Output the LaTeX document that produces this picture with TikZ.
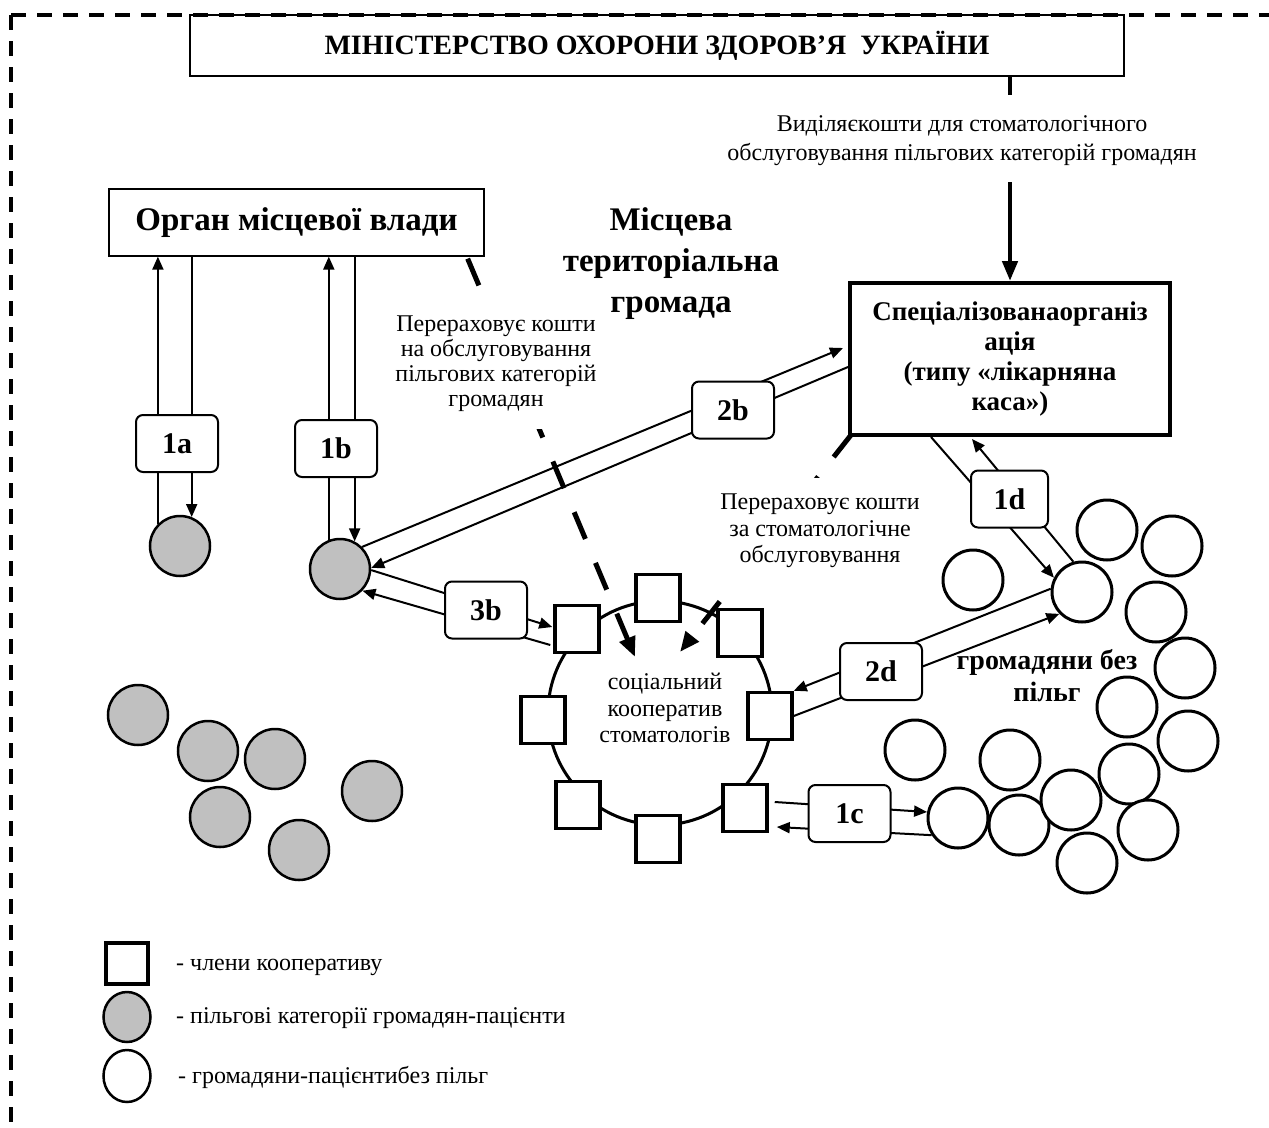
\documentclass[tikz,border=0pt]{standalone}
\usepackage{fontspec}
\setmainfont{Liberation Serif}
\usetikzlibrary{arrows.meta,calc,shapes.geometric}
\definecolor{pgray}{RGB}{192,192,192}
\begin{document}
\begin{tikzpicture}[x=1bp,y=-1bp,
  every node/.style={inner sep=0pt},
  plainbox/.style={draw, line width=1.3bp, fill=white},
  specbox/.style={draw, line width=4bp, fill=white, minimum width=320bp, minimum height=152bp, align=center,
    font=\bfseries\fontsize{27bp}{30bp}\selectfont},
  lbl/.style={draw, line width=2bp, rounded corners=7bp, fill=white, minimum width=82bp, minimum height=57bp,
    font=\bfseries\fontsize{30bp}{32bp}\selectfont},
  member/.style={draw, line width=3.5bp, fill=white, minimum width=44bp, minimum height=47bp},
  gpat/.style={circle, draw, line width=2.5bp, fill=pgray, minimum size=60bp},
  wpat/.style={circle, draw, line width=3bp, fill=white, minimum size=60bp},
  link/.style={line width=2bp},
  arr/.style={-{Triangle[length=13bp,width=11bp]}},
  money/.style={line width=5bp, -{Triangle[length=20bp,width=16bp]}},
  txt/.style={align=center, font=\fontsize{24bp}{25bp}\selectfont},
  frame/.style={line width=3.5bp, dash pattern=on 15bp off 11bp},
]
\useasboundingbox (0,0) rectangle (1269,1128);

% ---------- main boxes ----------
\node[plainbox, minimum width=934bp, minimum height=61bp,
      font=\bfseries\fontsize{28bp}{30bp}\selectfont] (min) at (657,45.5) {МІНІСТЕРСТВО ОХОРОНИ ЗДОРОВ’Я\ \ УКРАЇНИ};
\node[plainbox, minimum width=375bp, minimum height=67bp,
      font=\bfseries\fontsize{33bp}{35bp}\selectfont] (organ) at (296.5,222.5) {Орган місцевої влади};
\node[specbox, outer sep=2bp] (spec) at (1010,359) {Спеціалізованаорганіз\\ація\\(типу «лікарняна\\каса»)};

% ---------- frame ----------
\coordinate (corner) at (11,15);
\draw[frame] (corner) -- (1269,15);
\draw[frame] (corner) -- (11,1128);

% ---------- ministry -> spec ----------
\coordinate (stubend) at (1010,95);
\coordinate (arrstart) at (1010,182);
\draw[line width=4.5bp] (min.south -| spec.north) -- (stubend);
\draw[line width=4.5bp, -{Triangle[length=20bp,width=15bp]}] (arrstart) -- (spec.north);
\node[txt, font=\fontsize{24bp}{29bp}\selectfont] (alloc) at (962,141) {Виділяєкошти для стоматологічного\\обслуговування пільгових категорій громадян};

% ---------- cooperative ----------
\node[circle, draw, line width=3bp, minimum size=224bp] (coop) at (660,713) {};
\node[txt, font=\fontsize{24bp}{26.5bp}\selectfont] (cooptxt) at (665,708) {соціальний\\кооператив\\стоматологів};
\node[member] (s1) at (577,629) {};
\node[member] (s2) at (658,598) {};
\node[member] (s3) at (740,633) {};
\node[member] (s4) at (770,716) {};
\node[member] (s5) at (745,808) {};
\node[member] (s6) at (658,839) {};
\node[member] (s7) at (578,805) {};
\node[member] (s8) at (543,720) {};

% ---------- privileged patients ----------
\node[gpat] (g1) at (180,546) {};
\node[gpat] (g2) at (340,569) {};
\node[gpat] (g3) at (138,715) {};
\node[gpat] (g4) at (208,751) {};
\node[gpat] (g5) at (275,759) {};
\node[gpat] (g6) at (220,817) {};
\node[gpat] (g7) at (299,850) {};
\node[gpat] (g8) at (372,791) {};

% ---------- patients without privileges ----------
\node[wpat] (Ca) at (1082,592) {};
\node[wpat] (Cb) at (973,580) {};
\node[wpat] (Cc) at (1107,530) {};
\node[wpat] (Cd) at (1172,546) {};
\node[wpat] (Ce) at (1156,612) {};
\node[wpat] (Cf) at (1185,668) {};
\node[wpat] (Cg) at (1127,707) {};
\node[wpat] (Ch) at (1188,741) {};
\node[wpat] (Ci) at (1129,774) {};
\node[wpat] (Cj) at (1148,830) {};
\node[wpat] (Cm) at (1019,825) {};
\node[wpat] (Ck) at (1071,800) {};
\node[wpat] (Cl) at (1087,863) {};
\node[wpat] (Cn) at (958,818) {};
\node[wpat] (Co) at (1010,760) {};
\node[wpat] (Cp) at (915,750) {};
\node[font=\bfseries\fontsize{28bp}{32bp}\selectfont, align=center] (nopriv) at (1047,676) {громадяни без\\пільг};

% ---------- dashed money flows ----------
\coordinate (d1s) at ($(organ.south east)+(-17,2)$);
\coordinate (d1e) at (635,657);
\draw[money, dash pattern=on 29bp off 26bp] (d1s) -- (d1e);
\coordinate (d2s) at ($(spec.south west)+(3,-2)$);
\coordinate (d2e) at (680,652);
\draw[money, dash pattern=on 28bp off 25bp] (d2s) -- (d2e);
\node[txt, fill=white, inner xsep=3bp, inner ysep=17bp] (pay1) at (496,364) {Перераховує кошти\\на обслуговування\\пільгових категорій\\громадян};
\node[txt, fill=white, inner xsep=3bp, inner ysep=16bp, font=\fontsize{24bp}{26.5bp}\selectfont] (pay2) at (820,531) {Перераховує кошти\\за стоматологічне\\обслуговування};
\node[font=\bfseries\fontsize{33bp}{41bp}\selectfont, align=center] (comm) at (671,264) {Місцева\\територіальна\\громада};

% ---------- solid connectors ----------
% 1a
\draw[link, arr] (g1.north west) -- (g1.north west |- organ.south);
\draw[link, arr] (g1.68 |- organ.south) -- (g1.68);
% 1b
\draw[link, arr] (g2.111) -- (g2.111 |- organ.south);
\draw[link, arr] (g2.62 |- organ.south) -- (g2.62);
% 2b
\draw[link, arr] (g2.45) -- ($(spec.west)+(-5,-11)$);
\draw[link, arr] ($(spec.west)+(0,8)$) -- (g2.2);
% 3b
\draw[link, arr] (g2.-2) -- ($(s1.west)+(-1,-2)$);
\draw[link, arr] ($(s1.west)+(-3,16)$) -- (g2.-44);
% 2d
\draw[link, arr] (Ca.174) -- (s4.north east);
\draw[link, arr] (s4.east) -- (Ca.224);
% 1c
\draw[link, arr] ($(s5.east)+(6,-6)$) -- (Cn.169);
\draw[link, arr] (Cn.213) -- ($(s5.east)+(8,19)$);
% 1d
\draw[link, arr] ($(spec.south)+(-79,0)$) -- (Ca.153);
\draw[link, arr] (Ca.106) -- ($(spec.south)+(-38,2)$);

% ---------- flow labels ----------
\node[lbl] (l1a) at (177,443.5) {1a};
\node[lbl] (l1b) at (336,448.5) {1b};
\node[lbl] (l2b) at (733,410) {2b};
\node[lbl] (l3b) at (486,610) {3b};
\node[lbl] (l2d) at (881,671.5) {2d};
\node[lbl] (l1c) at (849.5,813.5) {1c};
\node[lbl, minimum width=77bp] (l1d) at (1009.5,499) {1d};

% ---------- legend ----------
\node[member, line width=4bp, minimum width=42bp, minimum height=41bp] (lsq) at (127,963.5) {};
\node[ellipse, draw, line width=2.5bp, fill=pgray, minimum width=47bp, minimum height=50bp] (lgr) at (127,1017) {};
\node[ellipse, draw, line width=2.5bp, fill=white, minimum width=47bp, minimum height=52bp] (lwh) at (127,1076) {};
\node[txt, anchor=west] (lt1) at (176,967) {- члени кооперативу};
\node[txt, anchor=west] (lt2) at (176,1018) {- пільгові категорії громадян-пацієнти};
\node[txt, anchor=west] (lt3) at (178,1077) {- громадяни-пацієнтибез пільг};
\end{tikzpicture}
\end{document}
